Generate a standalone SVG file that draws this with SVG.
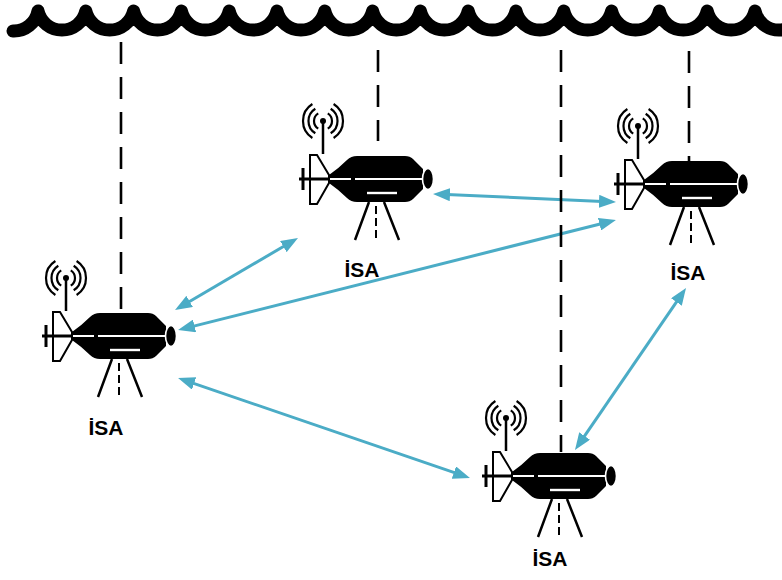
<svg xmlns="http://www.w3.org/2000/svg" xmlns:xlink="http://www.w3.org/1999/xlink" width="782" height="580" viewBox="0 0 782 580">
  <style>
    .surface{fill:none;stroke:#000;stroke-width:13;stroke-linecap:round;stroke-linejoin:round}
    .hull{fill:#000}
    .fin{fill:#fff;stroke:#000;stroke-width:2}
    .blk{fill:none;stroke:#000}
    .wht{fill:none;stroke:#fff}
    .tether{fill:none;stroke:#000;stroke-width:2.6;stroke-dasharray:22 13}
    .link{fill:none;stroke:#4BACC6;stroke-width:3;marker-start:url(#ah);marker-end:url(#ah)}
    .lbl{font-family:"Liberation Sans",Arial,sans-serif;font-weight:bold;font-size:21px;fill:#000;text-anchor:middle}
  </style>
  <defs>
    <marker id="ah" viewBox="0 0 17 13" refX="9" refY="6.5" markerWidth="17" markerHeight="13" markerUnits="userSpaceOnUse" orient="auto-start-reverse">
      <path d="M0,0 L17,6.5 L0,13 Z" fill="#4BACC6"/>
    </marker>
    <!-- underwater vehicle icon, origin at hull centre -->
    <g id="auv">
      <!-- antenna mast and radio waves -->
      <line class="blk" x1="-54" y1="-58" x2="-54" y2="-25" stroke-width="2.5"/>
      <circle cx="-54" cy="-58" r="3" fill="#000"/>
      <g class="blk" stroke-width="2.2">
        <path d="M-49.23,-65.63 A9 9 0 0 1 -49.23,-50.37"/>
        <path d="M-46.31,-70.3 A14.5 14.5 0 0 1 -46.31,-45.7"/>
        <path d="M-43.4,-74.96 A20 20 0 0 1 -43.4,-41.04"/>
        <path d="M-58.77,-65.63 A9 9 0 0 0 -58.77,-50.37"/>
        <path d="M-61.69,-70.3 A14.5 14.5 0 0 0 -61.69,-45.7"/>
        <path d="M-64.6,-74.96 A20 20 0 0 0 -64.6,-41.04"/>
      </g>
      <!-- hull -->
      <path class="hull" d="M-48,-4 Q-38,-11 -30,-19 Q-26,-23 -20,-23 L28,-23 Q33,-23 36,-20 L46,-10 L46,10 L36,20 Q33,23 28,23 L-20,23 Q-26,23 -30,19 Q-38,11 -48,4 Z"/>
      <ellipse cx="51" cy="0" rx="5.5" ry="10.5" fill="#000" stroke="#fff" stroke-width="1.6"/>
      <!-- tail fin and rod -->
      <path class="fin" d="M-67,-24 L-60,-24 L-48,-4 L-48,4 L-60,25 L-67,25 Z"/>
      <line class="blk" x1="-78" y1="0" x2="-48" y2="0" stroke-width="3"/>
      <line class="blk" x1="-74" y1="-11" x2="-74" y2="11" stroke-width="3"/>
      <!-- hull markings -->
      <path class="wht" d="M-47,0 H-26 M-22,0 H45" stroke-width="1.8"/>
      <path class="wht" d="M-10,14 H20" stroke-width="2.4"/>
      <!-- tripod -->
      <path class="blk" d="M-8,23 L-22,61 M7,23 L22,61" stroke-width="2.5"/>
      <path class="blk" d="M-1,27 V61" stroke-width="2" stroke-dasharray="8 4"/>
    </g>
  </defs>

  <!-- sea surface -->
  <path class="surface" d="M13,31 A24.5 24.5 0 0 0 38,11 A24.5 24.5 0 0 0 85.8,11 A24.5 24.5 0 0 0 133.6,11 A24.5 24.5 0 0 0 181.4,11 A24.5 24.5 0 0 0 229.2,11 A24.5 24.5 0 0 0 277,11 A24.5 24.5 0 0 0 324.8,11 A24.5 24.5 0 0 0 372.6,11 A24.5 24.5 0 0 0 420.4,11 A24.5 24.5 0 0 0 468.2,11 A24.5 24.5 0 0 0 516,11 A24.5 24.5 0 0 0 563.8,11 A24.5 24.5 0 0 0 611.6,11 A24.5 24.5 0 0 0 659.4,11 A24.5 24.5 0 0 0 707.2,11 A24.5 24.5 0 0 0 755,11 A24.5 24.5 0 0 0 802.8,11"/>

  <!-- acoustic links -->
  <g id="connectors">
    <line class="link" x1="181.9" y1="306" x2="291.1" y2="242"/>
    <line class="link" x1="185.8" y1="328.1" x2="608.2" y2="222"/>
    <line class="link" x1="441" y1="194.3" x2="608" y2="201.7"/>
    <line class="link" x1="185.6" y1="380.6" x2="462.4" y2="475.4"/>
    <line class="link" x1="681.5" y1="294.6" x2="579.5" y2="443.4"/>
  </g>

  <!-- tethers to the surface -->
  <g id="tethers">
    <line class="tether" x1="121" y1="42" x2="121" y2="311"/>
    <line class="tether" x1="378" y1="50" x2="378" y2="141"/>
    <line class="tether" x1="561" y1="50" x2="561" y2="452"/>
    <line class="tether" x1="689" y1="51" x2="689" y2="162"/>
  </g>

  <g id="isa1">
    <use xlink:href="#auv" transform="translate(120,336)"/>
    <text class="lbl" x="106" y="435">İSA</text>
  </g>
  <g id="isa2">
    <use xlink:href="#auv" transform="translate(377,179)"/>
    <text class="lbl" x="362" y="277">İSA</text>
  </g>
  <g id="isa3">
    <use xlink:href="#auv" transform="translate(692,184)"/>
    <text class="lbl" x="688" y="280">İSA</text>
  </g>
  <g id="isa4">
    <use xlink:href="#auv" transform="translate(560,476)"/>
    <text class="lbl" x="550" y="566">İSA</text>
  </g>
</svg>
